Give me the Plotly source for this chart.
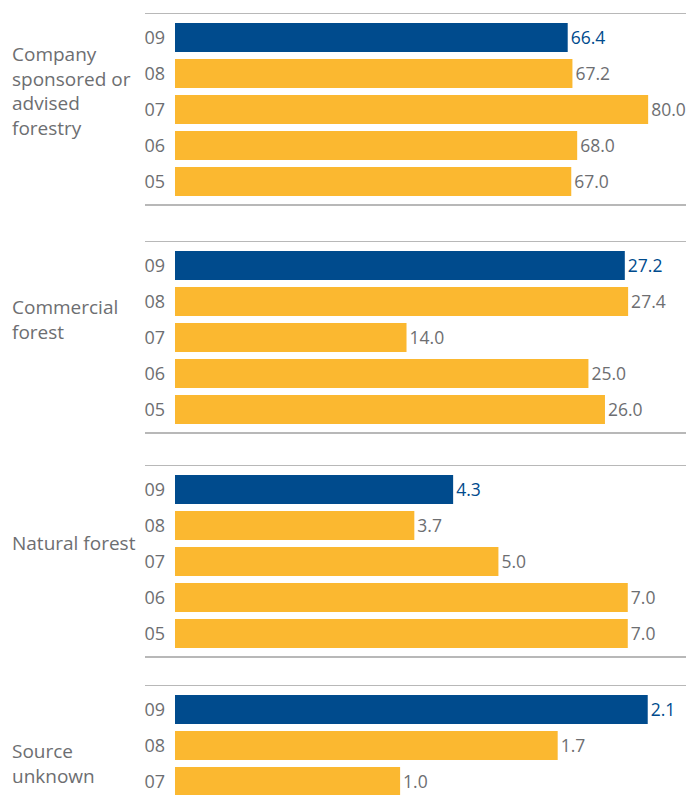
import plotly.graph_objects as go

# Fibre sourcing by category, share of total (%), by year
years = ["09", "08", "07", "06", "05"]
categories = [
    "Company<br>sponsored or<br>advised<br>forestry",
    "Commercial<br>forest",
    "Natural forest",
    "Source<br>unknown",
]
company_forestry = [66.4, 67.2, 80.0, 68.0, 67.0]
commercial_forest = [27.2, 27.4, 14.0, 25.0, 26.0]
natural_forest = [4.3, 3.7, 5.0, 7.0, 7.0]
source_unknown = [2.1, 1.7, 1.0]

series = [company_forestry, commercial_forest, natural_forest, source_unknown]

BLUE = "#004b8d"
YELLOW = "#fbb830"
GREY_TEXT = "#6d6e71"
RULE = "#a0a0a0"
FONT = "Open Sans"

H = 795.0
W = 688.0
ML, MR = 175, 2
PW = W - ML - MR
ROW = 36.0

# panel layout in pixels: top rule position, x-axis maximum
panel_top_px = [13, 241, 465, 685]
x_max = [86.4, 30.9, 7.9, 2.27]

fig = go.Figure()

for i, vals in enumerate(series):
    n = len(vals)
    ys = list(range(n))
    colors = [BLUE] + [YELLOW] * (n - 1)
    tcolors = [BLUE] + [GREY_TEXT] * (n - 1)
    xa = "x" if i == 0 else f"x{i+1}"
    ya = "y" if i == 0 else f"y{i+1}"
    fig.add_trace(go.Bar(
        x=vals, y=ys, orientation="h",
        marker=dict(color=colors, line=dict(width=0)),
        width=0.8,
        text=[f"{v:.1f}" for v in vals],
        textposition="outside",
        textfont=dict(family=FONT, size=17.5, color=tcolors),
        cliponaxis=False,
        xaxis=xa, yaxis=ya,
        hoverinfo="skip",
    ))

    top = panel_top_px[i]
    if i < 3:
        y_lo, y_hi = -0.68, 4.68
    else:
        y_lo, y_hi = -0.68, (H - top) / ROW - 0.68
    bottom = top + (y_hi - y_lo) * ROW
    dom = [max(0.0, 1 - bottom / H), 1 - top / H]

    xkey = "xaxis" if i == 0 else f"xaxis{i+1}"
    ykey = "yaxis" if i == 0 else f"yaxis{i+1}"
    fig.update_layout({
        xkey: dict(domain=[0, 1], range=[0, x_max[i]], visible=False,
                   anchor=ya, fixedrange=True),
        ykey: dict(domain=dom, range=[y_hi, y_lo], anchor=xa,
                   tickvals=ys, ticktext=years[:n],
                   tickfont=dict(family=FONT, size=18, color=GREY_TEXT),
                   ticks="", showgrid=False, zeroline=False, showline=False,
                   ticklabelstandoff=9, fixedrange=True),
    })

    # rules above and below each panel
    x0 = (145 - ML) / PW
    fig.add_shape(type="line", xref="paper", yref=ya, x0=x0, x1=1,
                  y0=-0.68, y1=-0.68, line=dict(color=RULE, width=1.5))
    if i < 3:
        fig.add_shape(type="line", xref="paper", yref=ya, x0=x0, x1=1,
                      y0=4.65, y1=4.65, line=dict(color=RULE, width=1.5))

    # category label, centred between the 08 and 07 rows
    fig.add_annotation(
        text=categories[i], xref="paper", yref=ya,
        x=(10 - ML) / PW, y=1.5, xanchor="left", yanchor="middle",
        align="left", showarrow=False,
        font=dict(family=FONT, size=19, color=GREY_TEXT),
    )

fig.update_layout(
    width=688, height=795,
    margin=dict(l=ML, r=MR, t=0, b=0),
    paper_bgcolor="white", plot_bgcolor="white",
    showlegend=False, barmode="overlay",
)

fig.write_html("out.html")
